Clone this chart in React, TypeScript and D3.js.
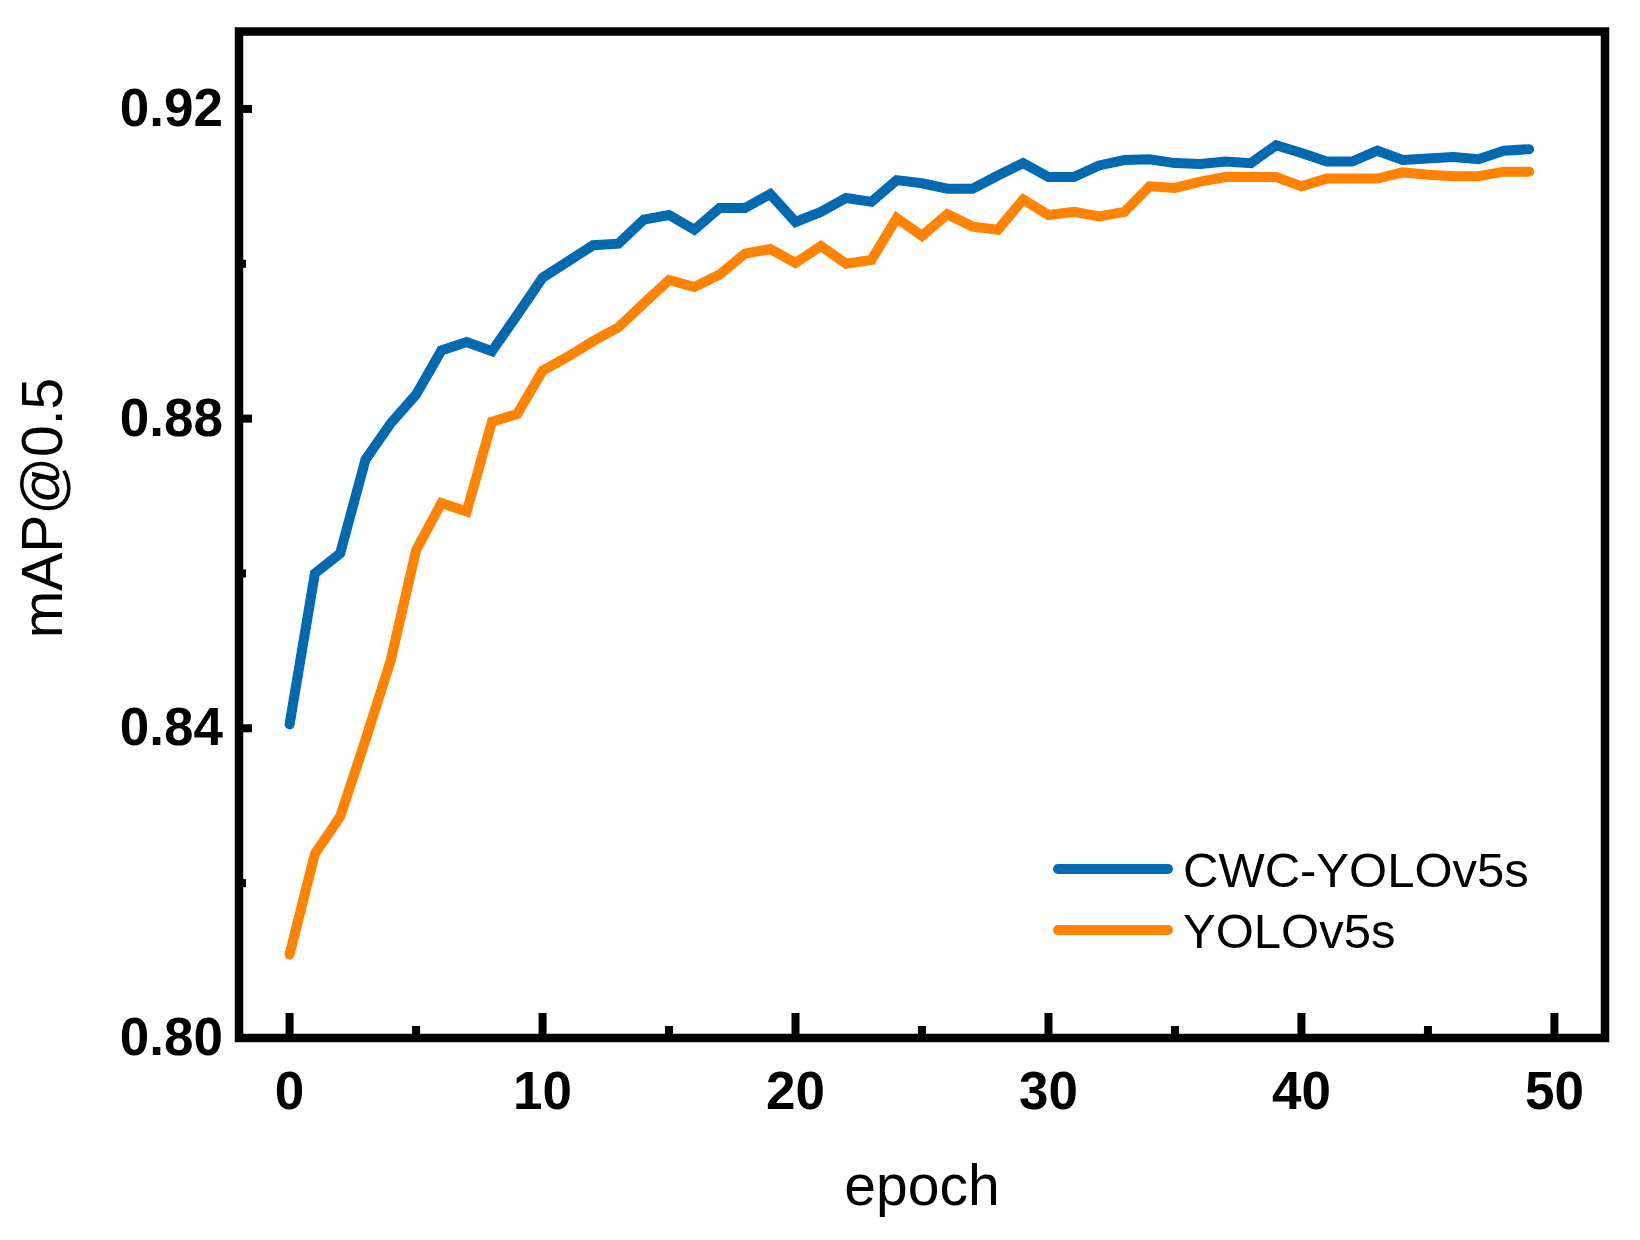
import React from "react";
import * as d3 from "d3";

const epochs: number[] = d3.range(0, 50);

const cwcYolo: number[] = [
  0.8405, 0.86, 0.8626, 0.8747, 0.8794, 0.8831, 0.8888, 0.8899, 0.8887, 0.8934,
  0.8982, 0.9003, 0.9024, 0.9026, 0.9057, 0.9063, 0.9044, 0.9072, 0.9072, 0.909,
  0.9054, 0.9067, 0.9085, 0.908, 0.9108, 0.9104, 0.9097, 0.9097, 0.9114, 0.913,
  0.9112, 0.9112, 0.9127, 0.9134, 0.9135, 0.913, 0.9129, 0.9132, 0.913, 0.9153,
  0.9143, 0.9132, 0.9132, 0.9146, 0.9134, 0.9136, 0.9138, 0.9135, 0.9146, 0.9148,
];

const yolo: number[] = [
  0.8108, 0.8238, 0.8286, 0.8385, 0.8488, 0.863, 0.8691, 0.868, 0.8796, 0.8806,
  0.8862, 0.888, 0.89, 0.8918, 0.8949, 0.8979, 0.897, 0.8986, 0.9013, 0.9019,
  0.9001, 0.9023, 0.9, 0.9005, 0.9059, 0.9036, 0.9064, 0.9048, 0.9044, 0.9083,
  0.9063, 0.9067, 0.9061, 0.9067, 0.91, 0.9098, 0.9106, 0.9112, 0.9112, 0.9112,
  0.91, 0.911, 0.911, 0.911, 0.9118, 0.9115, 0.9113, 0.9113, 0.9119, 0.9119,
];

const seriesNames: string[] = ["CWC-YOLOv5s", "YOLOv5s"];
const seriesColors: string[] = ["#0369B0", "#FF8200"];

const xMajorTicks: number[] = [0, 10, 20, 30, 40, 50];
const xMinorTicks: number[] = [5, 15, 25, 35, 45];
const yMajorTicks: number[] = [0.8, 0.84, 0.88, 0.92];
const yMinorTicks: number[] = [0.82, 0.86, 0.9];

const W = 1640;
const H = 1240;
const L = 239;
const R = 1605;
const T = 31.5;
const B = 1038;

export default function App() {
  const x = d3.scaleLinear().domain([-2, 52]).range([L, R]);
  const y = d3.scaleLinear().domain([0.8, 0.93]).range([B, T]);
  const line = d3
    .line<number>()
    .x((_, i) => x(epochs[i]))
    .y((d) => y(d));
  const series = [cwcYolo, yolo];
  const font = "'Liberation Sans', Arial, Helvetica, sans-serif";
  const legendY = [869, 930];

  return (
    <svg
      width={W}
      height={H}
      style={{ position: "absolute", left: 0, top: 0, background: "#fff" }}
      fontFamily={font}
    >
      <rect x={0} y={0} width={W} height={H} fill="#fff" />
      {/* data lines */}
      {series.map((s, k) => (
        <path
          key={k}
          d={line(s) || ""}
          fill="none"
          stroke={seriesColors[k]}
          strokeWidth={10}
          strokeLinecap="round"
          strokeLinejoin="miter"
          strokeMiterlimit={3}
        />
      ))}
      {/* frame */}
      <rect
        x={L}
        y={T}
        width={R - L}
        height={B - T}
        fill="none"
        stroke="#000"
        strokeWidth={8.5}
      />
      {/* x ticks */}
      {xMajorTicks.map((t) => (
        <g key={"xM" + t}>
          <line x1={x(t)} x2={x(t)} y1={B} y2={B - 25} stroke="#000" strokeWidth={8} />
          <text
            x={x(t)}
            y={1109}
            textAnchor="middle"
            fontSize={53}
            fontWeight="bold"
          >
            {t}
          </text>
        </g>
      ))}
      {xMinorTicks.map((t) => (
        <line key={"xm" + t} x1={x(t)} x2={x(t)} y1={B} y2={B - 12} stroke="#000" strokeWidth={8} />
      ))}
      {/* y ticks */}
      {yMajorTicks.map((t) => (
        <g key={"yM" + t}>
          <line x1={L} x2={L + 13} y1={y(t)} y2={y(t)} stroke="#000" strokeWidth={8} />
          <text
            x={223}
            y={y(t) + 17}
            textAnchor="end"
            fontSize={53}
            fontWeight="bold"
          >
            {t.toFixed(2)}
          </text>
        </g>
      ))}
      {yMinorTicks.map((t) => (
        <line key={"ym" + t} x1={L} x2={L + 7} y1={y(t)} y2={y(t)} stroke="#000" strokeWidth={8} />
      ))}
      {/* axis titles */}
      <text x={(L + R) / 2} y={1205} textAnchor="middle" fontSize={57}>
        epoch
      </text>
      <text
        transform={`translate(62, 508) rotate(-90)`}
        textAnchor="middle"
        fontSize={57}
      >
        mAP@0.5
      </text>
      {/* legend */}
      {seriesNames.map((n, k) => (
        <g key={"lg" + k}>
          <line
            x1={1058}
            x2={1168}
            y1={legendY[k]}
            y2={legendY[k]}
            stroke={seriesColors[k]}
            strokeWidth={10}
            strokeLinecap="round"
          />
          <text x={1183} y={legendY[k] + 18} fontSize={49}>
            {n}
          </text>
        </g>
      ))}
    </svg>
  );
}
